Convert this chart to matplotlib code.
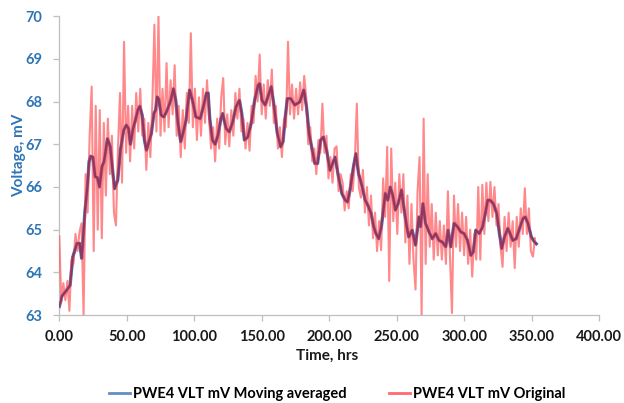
import matplotlib
matplotlib.use("Agg")
import matplotlib.pyplot as plt
import numpy as np
from matplotlib.ticker import FormatStrFormatter

# original readings, one every 1.5 hrs from t = 0
orig_step_hrs = 1.5
orig_mv = [
    64.85, 63.3, 63.75, 63.35, 63.8, 63.1, 64.3, 64.2, 64.9, 64.5,
    64.95, 65.15, 63.0, 66.3, 65.4, 67.2, 68.35, 64.5, 67.9, 65.0,
    67.8, 64.8, 67.5, 65.8, 67.6, 66.3, 67.2, 65.4, 65.1, 66.9,
    68.2, 66.1, 69.4, 66.8, 67.9, 66.6, 67.9, 66.9, 68.2, 67.3,
    68.3, 67.2, 67.6, 66.4, 67.5, 66.7, 68.0, 69.8, 67.3, 70.0,
    67.2, 68.3, 67.3, 68.9, 67.4, 68.5, 67.7, 68.85, 67.2, 67.9,
    66.7, 67.8, 66.9, 68.2, 67.5, 69.6, 67.4, 68.3, 67.1, 68.1,
    67.2, 68.3, 67.5, 68.5, 67.6, 66.9, 67.4, 66.6, 67.6, 66.9,
    68.1, 68.55, 67.0, 67.7, 66.95, 67.8, 67.2, 68.2, 67.6, 68.3,
    67.3, 67.6, 66.9, 67.5, 66.85, 67.9, 67.5, 68.6, 68.0, 69.1,
    67.7, 68.4, 67.6, 68.5, 67.9, 68.75, 67.5, 67.9, 66.9, 67.4,
    66.7, 67.6, 67.4, 69.4, 67.7, 68.4, 67.6, 68.3, 67.7, 68.45,
    67.8, 68.6, 68.1, 67.0, 67.4, 66.6, 66.9, 66.3, 67.1, 66.8,
    67.95, 66.8, 67.2, 66.2, 66.7, 66.1, 66.9, 66.95, 65.9, 66.3,
    66.1, 65.45, 65.9, 65.5, 66.3, 65.9, 66.6, 67.95, 66.0, 65.75,
    66.4, 65.4, 66.0, 65.1, 65.8, 64.8, 65.4, 64.5, 65.2, 64.52,
    66.2, 65.3, 66.94, 63.8, 66.9, 65.2, 66.1, 64.9, 66.3, 65.4,
    66.3, 64.7, 65.8, 64.2, 65.6, 64.3, 63.6, 65.9, 66.7, 63.0,
    67.6, 64.2, 66.3, 64.6, 65.6, 64.3, 65.4, 64.4, 65.2, 64.3,
    65.1, 64.2, 65.9, 64.4, 63.05, 65.8, 64.6, 65.6, 64.5, 65.4,
    64.4, 65.3, 64.2, 65.0, 63.9, 64.9, 64.3, 66.0, 64.3, 66.05,
    64.9, 66.1, 65.2, 66.12, 65.3, 66.0, 65.1, 65.6, 64.6, 64.13,
    65.3, 64.5, 65.4, 64.6, 65.2, 64.1, 65.3, 64.6, 65.5, 64.9,
    65.97, 64.9, 65.5, 64.5, 64.37, 64.8,
]

# moving average
ma_hrs = [
    0, 2, 5.4, 8, 10, 13.1, 15.1, 16.6, 19.1, 20.8, 22.1, 23.2, 24.9, 26.6,
    28.2, 29.8, 31.6, 33.2, 35.7, 37.8, 39.8, 41, 43.3, 45.3, 47.7, 49.7,
    51.3, 52.7, 54.7, 56.4, 58.2, 59.7, 61.4, 63.1, 64.6, 66.4, 68.2, 70.1,
    71.4, 72.5, 73.8, 75.5, 77.5, 80, 82.6, 84.6, 86.3, 88, 90, 92, 93.9,
    95.6, 96.6, 98.7, 101.2, 104.4, 106.7, 109.1, 110.3, 111.5, 113.5,
    115.5, 117.5, 119.8, 121.1, 123.6, 126, 128.5, 131, 133.5, 135.2,
    137.2, 139.7, 142.2, 144.8, 147.3, 148.5, 150.2, 152.6, 154.6, 157.1,
    159.2, 161.6, 164.1, 165.8, 167.5, 169, 171.5, 174.5, 178.2, 181.2,
    183.2, 185.1, 187, 189.4, 191.4, 193.7, 195.7, 198.1, 200.6, 202.6,
    204.4, 206.9, 209.4, 211.9, 213.6, 215.5, 218, 219.8, 221.8, 224.2,
    226.7, 228.7, 231.1, 233, 234.7, 236.7, 238.7, 240.4, 241.6, 243.4,
    245.3, 247.1, 249.1, 251.1, 253.6, 255.3, 257.5, 259, 261.5, 264,
    266.5, 267.7, 269.5, 271.4, 274, 276.4, 278.9, 281.4, 283.9, 286.4,
    288.1, 290.1, 292.6, 295.1, 297.5, 300, 302.5, 305, 306.8, 308.7,
    311.3, 313.7, 315.7, 317.5, 319.2, 321.7, 324.2, 326.2, 327.9, 329.9,
    332.4, 334.1, 336.1, 338.6, 341.1, 343.6, 345.3, 347.3, 349.8, 352.3,
    353.5,
]
ma_mv = [
    63.2, 63.45, 63.58, 63.7, 64.36, 64.68, 64.68, 64.33, 65.46, 66.0, 66.6,
    66.72, 66.7, 66.24, 66.22, 66.0, 66.47, 66.6, 67.13, 66.94, 66.3, 65.96,
    66.16, 66.86, 67.33, 67.45, 67.37, 67.0, 67.37, 67.56, 67.8, 67.89,
    67.68, 67.1, 66.86, 67.06, 67.25, 67.72, 67.8, 68.11, 68.05, 67.68,
    67.64, 67.8, 68.03, 68.3, 68.03, 67.49, 67.06, 67.3, 67.56, 68.03,
    68.27, 68.03, 67.64, 67.6, 67.87, 68.2, 68.2, 67.6, 67.1, 67.0, 67.2,
    67.6, 67.72, 67.37, 67.29, 67.52, 67.88, 68.03, 67.72, 67.1, 67.17,
    67.49, 68.03, 68.38, 68.42, 68.03, 67.92, 68.11, 68.35, 67.88, 67.25,
    66.94, 67.06, 67.64, 68.07, 68.07, 67.92, 67.99, 68.27, 67.88, 67.25,
    66.94, 66.55, 66.55, 67.1, 67.17, 66.86, 66.39, 66.55, 66.7, 66.24,
    65.85, 65.69, 65.65, 65.93, 66.47, 66.78, 66.31, 66.04, 65.69, 65.57,
    65.38, 65.07, 64.91, 64.79, 65.07, 65.53, 65.85, 65.69, 66.0, 65.81,
    65.46, 65.61, 65.93, 65.53, 65.07, 64.83, 64.99, 64.64, 65.3, 65.07,
    65.61, 65.15, 64.95, 64.79, 64.91, 64.75, 64.71, 64.6, 64.99, 64.6,
    65.15, 65.07, 64.95, 64.91, 64.75, 64.4, 64.48, 64.99, 64.91, 65.07,
    65.38, 65.69, 65.69, 65.61, 65.38, 64.91, 64.56, 64.83, 65.03, 64.91,
    64.75, 64.79, 65.03, 65.26, 65.3, 65.15, 64.83, 64.71, 64.67,
]

x_ticks = [0, 50, 100, 150, 200, 250, 300, 350, 400]
y_ticks = [63, 64, 65, 66, 67, 68, 69, 70]

BLUE = "#4F81BD"
PINK = "#FF5A5F"
LABEL_BLUE = "#2E75B6"

plt.rcParams["font.family"] = ["Lato", "DejaVu Sans"]

fig = plt.figure(figsize=(6.24, 4.03), dpi=100)
ax = fig.add_axes([0.095, 0.218, 0.865, 0.742])

orig_hrs = np.arange(len(orig_mv)) * orig_step_hrs

ax.plot(ma_hrs, ma_mv, color=BLUE, linewidth=2.4, zorder=2,
        label="PWE4 VLT mV Moving averaged")
ax.plot(orig_hrs, orig_mv, color=PINK, linewidth=1.5, alpha=0.72, zorder=3,
        label="PWE4 VLT mV Original")
# darker core where the two series overlap
ax.plot(ma_hrs, ma_mv, color="#8A2D5C", linewidth=1.6, alpha=0.85, zorder=4)

ax.set_xlim(0, 400)
ax.set_ylim(63, 70)
ax.set_xticks(x_ticks)
ax.set_yticks(y_ticks)
ax.xaxis.set_major_formatter(FormatStrFormatter("%.2f"))

for side in ("top", "right"):
    ax.spines[side].set_visible(False)
for side in ("left", "bottom"):
    ax.spines[side].set_color("#BFBFBF")
    ax.spines[side].set_linewidth(0.9)

ax.tick_params(axis="x", colors="#BFBFBF", labelcolor="#1a1a1a",
               labelsize=10.5, length=4, width=0.9, pad=7)
ax.tick_params(axis="y", colors="#BFBFBF", labelcolor=LABEL_BLUE,
               labelsize=10.5, length=4, width=0.9, pad=8)
for lbl in ax.get_xticklabels() + ax.get_yticklabels():
    lbl.set_fontweight("bold")

ax.set_xlabel("Time, hrs", fontsize=11, fontweight="bold", color="#1a1a1a")
ax.set_ylabel("Voltage, mV", fontsize=11, fontweight="bold", color=LABEL_BLUE)
ax.xaxis.set_label_coords(0.496, -0.112)
ax.yaxis.set_label_coords(-0.062, 0.535)

leg = fig.legend(loc="lower center", bbox_to_anchor=(0.541, -0.027), ncol=2,
                 frameon=False, handlelength=1.4, handletextpad=0.25,
                 columnspacing=2.9, prop={"weight": "bold", "size": 10.5})
for line in leg.get_lines():
    line.set_linewidth(2.0)
    line.set_alpha(0.9)

fig.savefig("out.png", dpi=100)
